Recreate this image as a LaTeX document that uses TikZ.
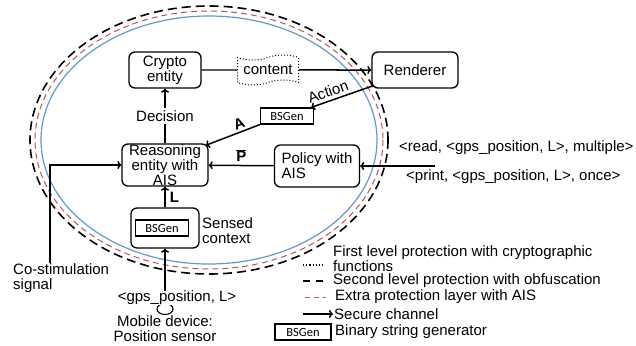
\documentclass[tikz,border=0pt]{standalone}
\usepackage{fontspec}
\setmainfont{Liberation Sans}
\newfontfamily\bsfont{Carlito}
\usetikzlibrary{shapes.symbols,shapes.geometric,arrows.meta}
\definecolor{layerred}{RGB}{192,80,77}
\definecolor{layerblue}{RGB}{91,155,213}
\begin{document}
\begin{tikzpicture}[x=1pt,y=-1pt,
  every node/.style={font=\fontsize{15}{15.2}\selectfont, inner sep=0pt},
  ent/.style={draw, rounded corners=6pt, line width=1.3pt, align=center},
  bsg/.style={draw, line width=1.1pt, minimum width=53pt, minimum height=16pt,
    font=\bsfont\fontsize{12.5}{13}\selectfont},
  arr/.style={line width=1.5pt, -{To[length=4pt,width=8pt]}},
  blackdash/.style={line width=1.6pt, dash pattern=on 9pt off 5pt},
  reddash/.style={line width=1pt, layerred, dash pattern=on 6pt off 4pt},
  bluering/.style={line width=1.2pt, layerblue}
]
\useasboundingbox (0,0) rectangle (636,345);

% protection layers round the trusted entities
\draw[blackdash] (209,140) ellipse [x radius=179, y radius=134];
\draw[reddash] (209,140) ellipse [x radius=174, y radius=129];
\draw[bluering] (209,140) ellipse [x radius=168, y radius=124];

% entities
\node[ent, minimum width=72pt, minimum height=36pt] (crypto) at (165,70) {Crypto\\entity};
\node[draw, dotted, line width=1pt, tape, minimum width=61pt, minimum height=30pt] (content) at (268,70) {content};
\node[ent, minimum width=86pt, minimum height=36pt] (rend) at (415,70) {Renderer};
\node[bsg] (bsgA) at (287,116) {BSGen};
\node[ent, minimum width=86pt, minimum height=42pt] (reas) at (165,165) {Reasoning\\entity with\\AIS};
\node[ent, minimum width=85pt, minimum height=42pt, align=left] (pol) at (317,166) {Policy with\\AIS};
\node[ent, minimum width=68pt, minimum height=40pt] (sens) at (165,228) {};
\node[bsg] (bsgS) at (162,228) {BSGen};
\node[anchor=west, align=left] (senslbl) at (202,231) {Sensed\\context};

% content flow
\draw[line width=1.3pt] (crypto) -- (content);
\draw[arr] (content) -- (rend);
\draw[arr] (reas) -- node[fill=white, inner sep=2pt] {Decision} (crypto);
\draw[arr] ([shift={(2,-3)}]rend.south west) -- node[sloped, above=3pt, pos=0.68] {Action} ([xshift=-3pt]bsgA.north east);
\draw[arr] (bsgA.south west) -- node[sloped, above=2pt, pos=0.33] {\textbf{A}} ([shift={(-3,2)}]reas.north east);
\draw[arr] (pol) -- node[above=3pt] {$\overline{\mbox{\textbf{P}}}$} (reas);
\draw[arr] (sens) -- node[right=4pt] {\textbf{L}} (reas);

% policy input
\coordinate (polin) at (435,166);
\draw[arr] (polin) -- (pol.east);
\node[anchor=west] (rd) at (399,148) {<read, <gps\_position, L>, multiple>};
\node[anchor=west] (pr) at (406,177) {<print, <gps\_position, L>, once>};

% co-stimulation
\coordinate (cs) at (50,263);
\draw[arr] (cs) |- (reas);
\node[anchor=north west, align=left] (cslbl) at (13,263) {Co-stimulation\\signal};

% mobile position sensor
\node[draw, ellipse, line width=1.1pt, minimum width=16pt, minimum height=11pt] (sensor) at (165,309) {};
\draw[arr] (sensor) -- (sens);
\node[fill=white] (gps) at (177,298) {<gps\_position, L>};
\node[anchor=north, align=center] (mob) at (165,315) {Mobile device:\\Position sensor};

% legend
\coordinate (k1a) at (303,265); \coordinate (k1b) at (325,265);
\draw[dotted, line width=1.2pt] (k1a) -- (k1b);
\node[anchor=west, align=left] (k1) at (333,259) {First level protection with cryptographic\\functions};
\coordinate (k2a) at (303,281); \coordinate (k2b) at (325,281);
\draw[line width=1.4pt, dash pattern=on 7pt off 6pt] (k2a) -- (k2b);
\node[anchor=west] (k2) at (333,281) {Second level protection with obfuscation};
\coordinate (k3a) at (305,297); \coordinate (k3b) at (326,297);
\draw[reddash, dash pattern=on 5pt off 4pt] (k3a) -- (k3b);
\node[anchor=west] (k3) at (335,297) {Extra protection layer with AIS};
\coordinate (k4a) at (303,314); \coordinate (k4b) at (333,314);
\draw[arr] (k4a) -- (k4b);
\node[anchor=west] (k4) at (334,314) {Secure channel};
\node[bsg, minimum width=56pt] (k5box) at (303,332) {BSGen};
\node[anchor=west] (k5) at (335,332) {Binary string generator};
\end{tikzpicture}
\end{document}
